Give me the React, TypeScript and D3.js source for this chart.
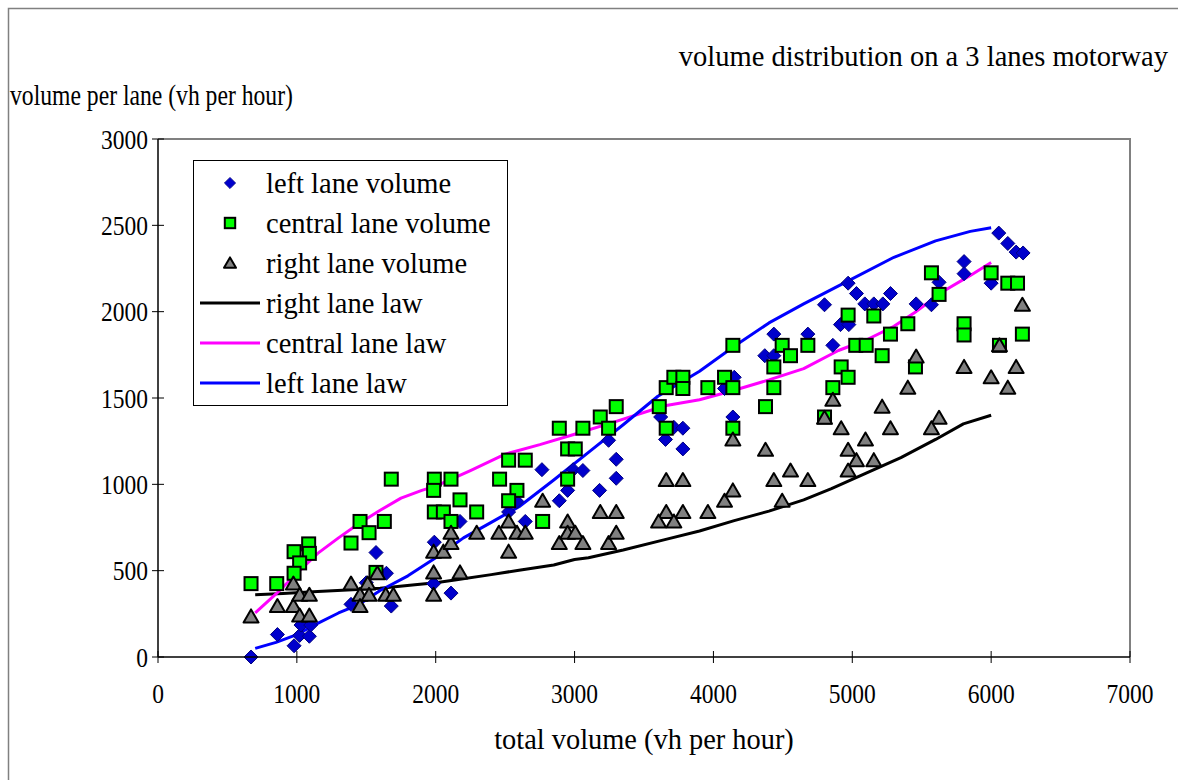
import * as d3 from "d3";

// left lane volume (diamonds)
const leftPts: [number, number][] = [
  [670, 0], [860, 130], [980, 65], [1020, 125], [1090, 120], [1030, 185], [1100, 185],
  [1390, 305], [1500, 430], [1570, 605], [1645, 485], [1680, 295],
  [1990, 665], [1985, 425], [2110, 370], [2175, 785], [2525, 840], [2645, 785], [2585, 900],
  [2765, 1085], [2890, 905], [2950, 965], [2990, 1085], [3060, 1080], [3180, 965],
  [3245, 1255], [3300, 1145], [3300, 1035], [3620, 1390], [3655, 1260], [3715, 1330],
  [3780, 1325], [3780, 1205], [4080, 1555], [4150, 1620], [4140, 1390], [4370, 1745],
  [4435, 1870], [4435, 1745], [4970, 2165], [4800, 2040], [5030, 2105], [5090, 2045],
  [5155, 2045], [5220, 2045], [5275, 2105], [4915, 1925], [4975, 1925], [4680, 1870],
  [4860, 1805], [5460, 2045], [5570, 2040], [5625, 2170], [5805, 2290], [5805, 2220],
  [6000, 2165], [6055, 2455], [6120, 2395], [6180, 2345], [6230, 2340],
];

// central lane volume (squares)
const centralPts: [number, number][] = [
  [670, 425], [855, 425], [980, 610], [1085, 655], [1090, 600], [1020, 545], [980, 485],
  [1680, 1030], [1455, 785], [1520, 720], [1630, 785], [1390, 660], [1570, 490],
  [1990, 1030], [1985, 965], [2110, 1030], [2175, 910], [1990, 840], [2055, 840], [2295, 840],
  [2110, 785], [2460, 1030], [2525, 1140], [2645, 1140], [2585, 965], [2525, 905], [2770, 785],
  [2890, 1325], [3060, 1325], [2950, 1205], [3005, 1205], [2950, 1030], [3185, 1390],
  [3300, 1450], [3245, 1325], [3610, 1450], [3660, 1325], [3660, 1560], [3715, 1620],
  [3780, 1620], [3780, 1555], [3960, 1560], [4080, 1620], [4140, 1560], [4140, 1325],
  [4140, 1805], [4375, 1450], [4435, 1560], [4435, 1680], [4495, 1805], [4555, 1745],
  [4680, 1805], [4970, 1980], [5155, 1975], [5025, 1805], [5100, 1805], [5215, 1745],
  [5275, 1870], [5400, 1930], [5625, 2100], [5570, 2225], [4920, 1680], [4970, 1620],
  [4860, 1560], [4800, 1390], [5455, 1680], [5805, 1930], [5805, 1865], [6000, 2225],
  [6120, 2165], [6190, 2165], [6060, 1805], [6225, 1870],
];

// right lane volume (triangles)
const rightPts: [number, number][] = [
  [670, 235], [860, 295], [975, 425], [975, 295], [1020, 360], [1090, 360], [1020, 240],
  [1090, 240], [1390, 425], [1455, 360], [1455, 295], [1510, 425], [1520, 360], [1580, 485],
  [1640, 360], [1695, 360], [1985, 360], [1985, 490], [1985, 610], [2055, 610], [2110, 660],
  [2110, 720], [2175, 490], [2295, 720], [2455, 720], [2525, 785], [2585, 720], [2645, 720],
  [2525, 610], [2770, 905], [2890, 660], [2950, 785], [2950, 720], [3005, 720], [3060, 660],
  [3185, 840], [3245, 660], [3300, 840], [3300, 720], [3660, 1025], [3780, 1025],
  [3660, 840], [3780, 840], [3605, 785], [3715, 785], [3960, 840], [4080, 905], [4140, 965],
  [4140, 1260], [4375, 1200], [4435, 1025], [4555, 1080], [4495, 905], [4680, 1025],
  [4860, 1490], [4800, 1385], [4920, 1325], [5095, 1260], [4970, 1200], [5030, 1140],
  [4970, 1080], [5155, 1140], [5215, 1450], [5275, 1325], [5400, 1560], [5460, 1740],
  [5625, 1385], [5570, 1325], [5805, 1680], [6000, 1620], [6060, 1805], [6180, 1680],
  [6120, 1560], [6225, 2040],
];

// fitted laws
const rightLaw: [number, number][] = [
  [700, 360], [900, 368], [1150, 380], [1400, 390], [1600, 398], [1850, 418], [2000, 430],
  [2150, 448], [2400, 477], [2600, 503], [2850, 533], [3000, 565], [3100, 575], [3350, 620],
  [3650, 680], [3900, 730], [4150, 790], [4400, 845], [4650, 910], [4850, 975], [5100, 1065],
  [5350, 1155], [5600, 1260], [5800, 1350], [6000, 1400],
];
const centralLaw: [number, number][] = [
  [700, 255], [850, 365], [1000, 485], [1150, 600], [1300, 690], [1450, 775], [1600, 850],
  [1750, 920], [1900, 965], [2000, 990], [2250, 1080], [2500, 1175], [2750, 1230],
  [3000, 1290], [3300, 1365], [3650, 1455], [3900, 1490], [4150, 1545], [4400, 1605],
  [4650, 1670], [4900, 1775], [5100, 1836], [5300, 1915], [5450, 1995], [5650, 2115],
  [5850, 2210], [6000, 2285],
];
const leftLaw: [number, number][] = [
  [700, 50], [850, 85], [1000, 130], [1150, 195], [1300, 255], [1450, 305], [1600, 385],
  [1800, 470], [2000, 575], [2200, 690], [2400, 780], [2600, 870], [2850, 1025],
  [3100, 1185], [3350, 1345], [3600, 1510], [3900, 1655], [4150, 1800], [4400, 1935],
  [4650, 2045], [4950, 2170], [5300, 2315], [5600, 2410], [5850, 2465], [6000, 2486],
];

const xTicks = [0, 1000, 2000, 3000, 4000, 5000, 6000, 7000];
const yTicks = [0, 500, 1000, 1500, 2000, 2500, 3000];

const FONT = "'Liberation Serif', 'Times New Roman', serif";
const diamond = "M0,-7L7,0L0,7L-7,0Z";
const triangle = "M0,-7L7.5,6L-7.5,6Z";
const SQ = 0.84; // horizontally condensed text (axis labels, y title)

export default function App() {
  const x = d3.scaleLinear().domain([0, 7000]).range([158, 1130]);
  const y = d3.scaleLinear().domain([0, 3000]).range([657, 139]);
  const line = d3
    .line<[number, number]>()
    .x((d) => x(d[0]))
    .y((d) => y(d[1]));

  const legendRows = [
    { label: "left lane volume", kind: "diamond" },
    { label: "central lane volume", kind: "square" },
    { label: "right lane volume", kind: "triangle" },
    { label: "right lane law", kind: "line", color: "#000000" },
    { label: "central lane law", kind: "line", color: "#ff00ff" },
    { label: "left lane law", kind: "line", color: "#0000ff" },
  ];

  const marker = (kind: string, s = 1) => {
    if (kind === "diamond")
      return <path d={diamond} transform={`scale(${s})`} fill="#0000cc" stroke="#000080" strokeWidth={1} />;
    if (kind === "square")
      return <rect x={-6.5 * s} y={-6.5 * s} width={13 * s} height={13 * s} fill="#00ff00" stroke="#000" strokeWidth={2} />;
    return <path d={triangle} transform={`scale(${s})`} fill="#808080" stroke="#000" strokeWidth={2 / s} strokeLinejoin="round" />;
  };

  return (
    <svg
      width={1178}
      height={780}
      style={{ position: "absolute", left: 0, top: 0, background: "#fff" }}
      fontFamily={FONT}
    >
      {/* outer frame */}
      <rect x={8.5} y={8.5} width={1200} height={800} fill="#fff" stroke="#808080" strokeWidth={1.5} />

      {/* plot area border (top / right) */}
      <path d={`M${x(0)},${y(3000)}H${x(7000)}V${y(0)}`} fill="none" stroke="#808080" strokeWidth={2} />

      {/* laws */}
      {[
        { d: rightLaw, c: "#000000" },
        { d: centralLaw, c: "#ff00ff" },
        { d: leftLaw, c: "#0000ff" },
      ].map((s, i) => (
        <path key={i} d={line(s.d) || ""} fill="none" stroke={s.c} strokeWidth={3} strokeLinejoin="round" />
      ))}

      {/* markers */}
      {leftPts.map((p, i) => (
        <g key={"l" + i} transform={`translate(${x(p[0])},${y(p[1])})`}>{marker("diamond")}</g>
      ))}
      {centralPts.map((p, i) => (
        <g key={"c" + i} transform={`translate(${x(p[0])},${y(p[1])})`}>{marker("square")}</g>
      ))}
      {rightPts.map((p, i) => (
        <g key={"r" + i} transform={`translate(${x(p[0])},${y(p[1])})`}>{marker("triangle")}</g>
      ))}

      {/* axes */}
      <line x1={x(0)} x2={x(0)} y1={y(3000)} y2={y(0)} stroke="#000" strokeWidth={1.5} />
      <line x1={x(0)} x2={x(7000)} y1={y(0)} y2={y(0)} stroke="#000" strokeWidth={1.5} />
      {yTicks.map((t) => (
        <g key={"yt" + t}>
          <line x1={x(0) - 6} x2={x(0) + 6} y1={y(t)} y2={y(t)} stroke="#000" strokeWidth={1} />
          <text transform={`translate(148,${y(t) + 9.5}) scale(${SQ},1)`} textAnchor="end" fontSize={28}>{t}</text>
        </g>
      ))}
      {xTicks.map((t) => (
        <g key={"xt" + t}>
          <line x1={x(t)} x2={x(t)} y1={y(0) - 6} y2={y(0) + 6} stroke="#000" strokeWidth={1} />
          <text transform={`translate(${x(t)},703) scale(${SQ},1)`} textAnchor="middle" fontSize={28}>{t}</text>
        </g>
      ))}

      {/* titles */}
      <text x={1168} y={66} textAnchor="end" fontSize={28.5}>volume distribution on a 3 lanes motorway</text>
      <text transform={`translate(10,105) scale(0.83,1)`} fontSize={28.5}>volume per lane (vh per hour)</text>
      <text x={644} y={749} textAnchor="middle" fontSize={28.4}>total volume (vh per hour)</text>

      {/* legend */}
      <rect x={193.5} y={160.5} width={314} height={245} fill="#fff" stroke="#000" strokeWidth={1} />
      {legendRows.map((r, i) => {
        const cy = 183 + i * 40;
        return (
          <g key={r.label}>
            {r.kind === "line" ? (
              <line x1={200} x2={260} y1={cy} y2={cy} stroke={r.color} strokeWidth={3} />
            ) : (
              <g transform={`translate(230,${cy})`}>{marker(r.kind, 0.8)}</g>
            )}
            <text x={266} y={cy + 10} fontSize={28.5}>{r.label}</text>
          </g>
        );
      })}
    </svg>
  );
}
